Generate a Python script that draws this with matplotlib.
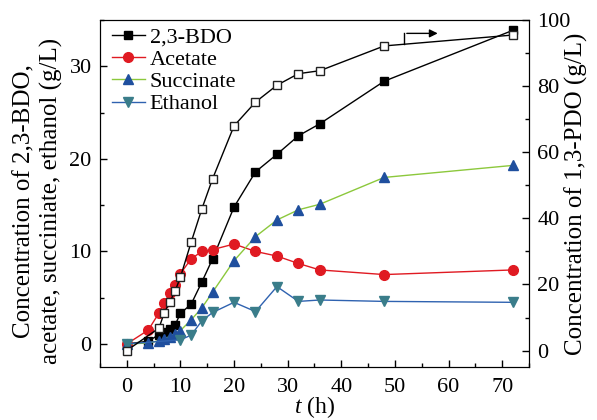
import matplotlib
matplotlib.use('Agg')
from matplotlib import pyplot as plt
from matplotlib.ticker import MultipleLocator

# sampling times (h)
t_main = [0, 4, 6, 7, 8, 9, 10, 12, 14, 16, 20, 24, 28, 32, 36, 48, 72]
t_pdo = [0, 6, 7, 8, 9, 10, 12, 14, 16, 20, 24, 28, 32, 36, 48, 72]
t_eth = [0, 10, 12, 14, 16, 20, 24, 28, 32, 36, 48, 72]

bdo = [0, 0.3, 1.0, 1.25, 1.6, 2.05, 3.3, 4.3, 6.7, 9.2, 14.8, 18.6, 20.5, 22.5, 23.8, 28.4, 33.9]
acetate = [0, 1.5, 3.35, 4.4, 5.5, 6.4, 7.6, 9.2, 10.0, 10.2, 10.8, 10.0, 9.5, 8.7, 8.0, 7.5, 8.0]
succinate = [0, 0.1, 0.35, 0.55, 0.8, 1.1, 1.45, 2.6, 3.9, 5.6, 9.0, 11.6, 13.4, 14.5, 15.1, 18.0, 19.3]
ethanol = [0, 0.45, 0.95, 2.5, 3.4, 4.5, 3.5, 6.2, 4.6, 4.75, 4.6, 4.5]
pdo = [0, 6.8, 11.5, 14.6, 18.0, 22.2, 32.8, 42.9, 52.0, 68.0, 75.2, 80.3, 83.8, 84.7, 92.2, 95.5]

plt.rcParams['font.family'] = 'Liberation Serif'
plt.rcParams['font.size'] = 16
plt.rcParams['mathtext.fontset'] = 'custom'
plt.rcParams['mathtext.it'] = 'Liberation Serif:italic'
plt.rcParams['mathtext.rm'] = 'Liberation Serif'

fig = plt.figure(figsize=(5.97, 4.2), dpi=100)
ax = fig.add_axes([0.1675, 0.126, 0.7185, 0.826])

ax.plot(t_main, bdo, '-s', color='black', lw=1, ms=6, label='2,3-BDO')
ax.plot(t_main, acetate, '-o', color='#e01a22', mfc='#e01a22', mec='#e01a22', lw=1, ms=7, label='Acetate')
ax.plot(t_main, succinate, '-^', color='#8cc83c', mfc='#1f4f9e', mec='#1f4f9e', lw=1, ms=7.5, label='Succinate')
ax.plot(t_eth, ethanol, '-v', color='#2f62b0', mfc='#3a7d8a', mec='#3a7d8a', lw=1, ms=7.5, label='Ethanol')

ax.set_xlim(-5, 75)
ax.set_ylim(-2.5, 35)
ax.xaxis.set_major_locator(MultipleLocator(10))
ax.xaxis.set_minor_locator(MultipleLocator(5))
ax.yaxis.set_major_locator(MultipleLocator(10))
ax.yaxis.set_minor_locator(MultipleLocator(5))
ax.tick_params(which='both', direction='in', top=False, right=False, labelsize=16)
ax.tick_params(which='major', length=5, width=1)
ax.tick_params(which='minor', length=3, width=1)
ax.tick_params(axis='x', pad=8)
ax.tick_params(axis='y', pad=6)
ax.set_xlabel('$t$ (h)', fontsize=17)
ax.xaxis.set_label_coords(0.5, -0.078)
ax.set_ylabel('Concentration of 2,3-BDO,\nacetate, succiniate, ethanol (g/L)',
              fontsize=18, linespacing=1.25)
ax.yaxis.set_label_coords(-0.086, 0.478)

ax2 = ax.twinx()
ax2.plot(t_pdo, pdo, '-s', color='black', mfc='white', mec='#222222', lw=1, ms=6)
ax2.set_ylim(-5, 100)
ax2.yaxis.set_major_locator(MultipleLocator(20))
ax2.yaxis.set_minor_locator(MultipleLocator(10))
ax2.tick_params(which='both', direction='in', labelsize=16, pad=6)
ax2.tick_params(which='major', length=5, width=1)
ax2.tick_params(which='minor', length=3, width=1)
ax2.set_ylabel('Concentration of 1,3-PDO (g/L)', fontsize=18)
ax2.yaxis.set_label_coords(1.083, 0.5)

# elbow arrow pointing to the right axis
ax2.plot([51.7, 51.7], [92.7, 96.0], color='black', lw=1)
ax2.annotate('', xy=(58.5, 96.0), xytext=(51.7, 96.0),
             arrowprops=dict(arrowstyle='-|>', color='black', lw=1, mutation_scale=12))

ax.legend(loc='upper left', bbox_to_anchor=(0.012, 1.0), frameon=False,
          handlelength=1.5, handletextpad=0.2, labelspacing=0.08,
          borderaxespad=0.1, borderpad=0.2, fontsize=16)

fig.savefig('out.png', dpi=100)
